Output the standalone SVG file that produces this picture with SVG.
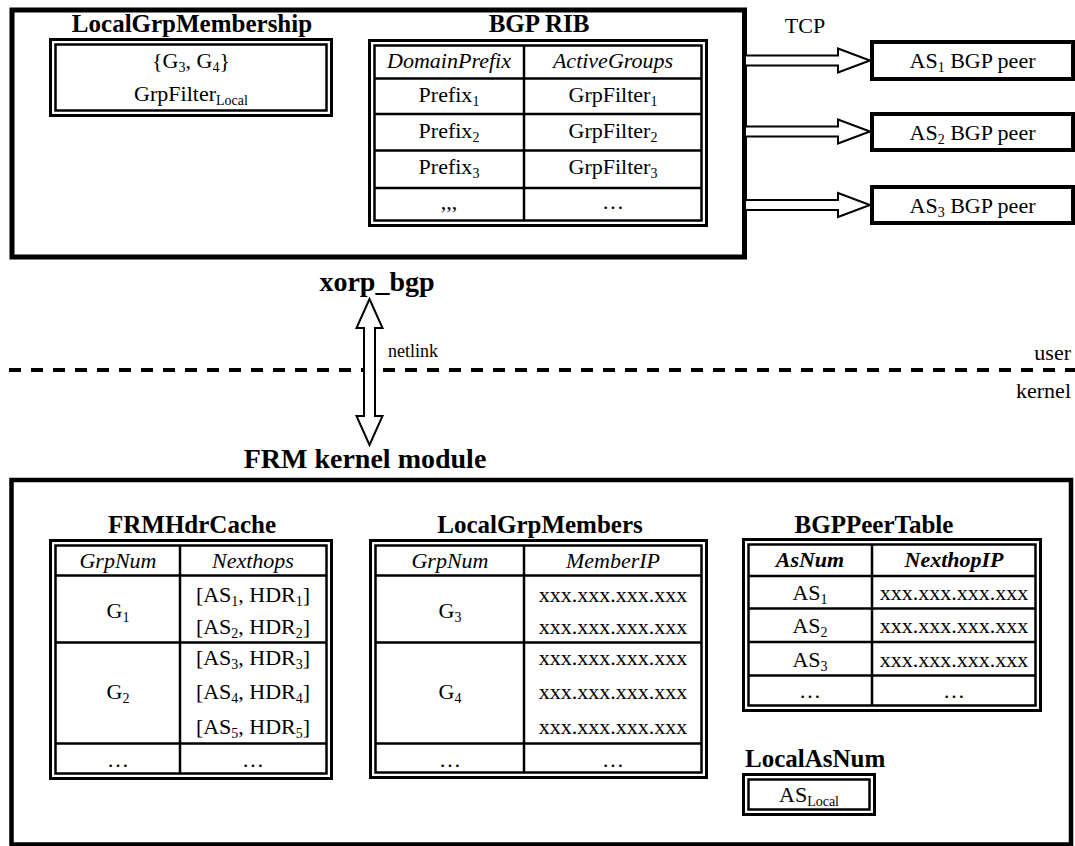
<svg xmlns="http://www.w3.org/2000/svg" width="1075" height="846" viewBox="0 0 1075 846">
<style>
text{font-family:"Liberation Serif","Times New Roman",serif;font-size:22px;fill:#000;text-anchor:middle}
.b{font-weight:bold;font-size:25px}
.bb{font-weight:bold;font-size:28px}
.i{font-style:italic}
.bi{font-style:italic;font-weight:bold}
.s{font-size:14px}
.st{text-anchor:start}
.en{text-anchor:end}
.o{fill:none;stroke:#000;stroke-width:3}
.in{fill:none;stroke:#000;stroke-width:2.5}
.g{stroke:#000;stroke-width:2.5;fill:none}
.box{fill:#fff;stroke:#000}
.arr{fill:#fff;stroke:#000;stroke-width:2;stroke-linejoin:miter}
</style>
<rect width="1075" height="846" fill="#fff"/>

<g id="xorp_bgp">
<rect class="box" x="12" y="10" width="732.5" height="247" stroke-width="5"/>
<text class="bb" x="377" y="291">xorp_bgp</text>
</g>

<g id="LocalGrpMembership">
<text class="b" x="192" y="32">LocalGrpMembership</text>
<rect class="o" x="50.5" y="39.5" width="281" height="76"/>
<rect class="in" x="55.5" y="44.5" width="271" height="66"/>
<text x="191" y="68">{G<tspan class="s" dy="4">3</tspan><tspan dy="-4">, G</tspan><tspan class="s" dy="4">4</tspan><tspan dy="-4">}</tspan></text>
<text x="191" y="101">GrpFilter<tspan class="s" dy="4">Local</tspan></text>
</g>

<g id="BGP_RIB">
<text class="b" x="539" y="32">BGP RIB</text>
<rect class="o" x="369.5" y="40.5" width="337" height="185"/>
<rect class="in" x="374.5" y="45.5" width="327" height="175"/>
<path class="g" d="M524 45.5V220.5M374.5 78.5H701.5M374.5 114H701.5M374.5 150.5H701.5M374.5 188H701.5"/>
<text class="i" x="449" y="68">DomainPrefix</text>
<text class="i" x="613" y="68">ActiveGroups</text>
<text x="449" y="102">Prefix<tspan class="s" dy="4">1</tspan></text>
<text x="613" y="102">GrpFilter<tspan class="s" dy="4">1</tspan></text>
<text x="449" y="138">Prefix<tspan class="s" dy="4">2</tspan></text>
<text x="613" y="138">GrpFilter<tspan class="s" dy="4">2</tspan></text>
<text x="449" y="174">Prefix<tspan class="s" dy="4">3</tspan></text>
<text x="613" y="174">GrpFilter<tspan class="s" dy="4">3</tspan></text>
<text x="449" y="209">,,,</text>
<text x="613" y="209">…</text>
</g>

<g id="peer1">
<rect class="box" x="872" y="42" width="201" height="37" stroke-width="4"/>
<text x="972.5" y="68">AS<tspan class="s" dy="4">1</tspan><tspan dy="-4"> BGP peer</tspan></text>
</g>
<g id="peer2">
<rect class="box" x="872" y="114" width="201" height="36" stroke-width="4"/>
<text x="972.5" y="140">AS<tspan class="s" dy="4">2</tspan><tspan dy="-4"> BGP peer</tspan></text>
</g>
<g id="peer3">
<rect class="box" x="872" y="187" width="201" height="36" stroke-width="4"/>
<text x="972.5" y="213">AS<tspan class="s" dy="4">3</tspan><tspan dy="-4"> BGP peer</tspan></text>
</g>

<g id="divider">
<line x1="0" y1="370" x2="1075" y2="370" stroke="#000" stroke-width="4" stroke-dasharray="12 10" stroke-dashoffset="13"/>
<text class="en" x="1071" y="360">user</text>
<text class="en" x="1071" y="398">kernel</text>
</g>

<g id="connectors">
<polygon class="arr" points="745,55.5 838,55.5 838,48.5 870,60.5 838,72.5 838,65.5 745,65.5"/>
<polygon class="arr" points="745,126.5 838,126.5 838,119.5 870,131.5 838,143.5 838,136.5 745,136.5"/>
<polygon class="arr" points="745,200 838,200 838,193 870,205 838,217 838,210 745,210"/>
<text x="805" y="33">TCP</text>
<polygon class="arr" points="369.5,299 382.5,328 375,328 375,416 382.5,416 369.5,445 356.5,416 364,416 364,328 356.5,328"/>
<text class="st" x="388" y="357" style="font-size:18px">netlink</text>
</g>

<g id="FRM_kernel_module">
<rect class="box" x="11.5" y="480" width="1059.5" height="364.5" stroke-width="4.5"/>
<text class="bb" x="365" y="468">FRM kernel module</text>
</g>

<g id="FRMHdrCache">
<text class="b" x="192" y="533">FRMHdrCache</text>
<rect class="o" x="50.5" y="540.5" width="281" height="238"/>
<rect class="in" x="55.5" y="545.5" width="271" height="228"/>
<path class="g" d="M180 545.5V773.5M55.5 575.5H326.5M55.5 642.5H326.5M55.5 743.5H326.5"/>
<text class="i" x="118" y="568">GrpNum</text>
<text class="i" x="253" y="568">Nexthops</text>
<text x="118" y="618">G<tspan class="s" dy="4">1</tspan></text>
<text x="253" y="602">[AS<tspan class="s" dy="4">1</tspan><tspan dy="-4">, HDR</tspan><tspan class="s" dy="4">1</tspan><tspan dy="-4">]</tspan></text>
<text x="253" y="634">[AS<tspan class="s" dy="4">2</tspan><tspan dy="-4">, HDR</tspan><tspan class="s" dy="4">2</tspan><tspan dy="-4">]</tspan></text>
<text x="118" y="699">G<tspan class="s" dy="4">2</tspan></text>
<text x="253" y="665">[AS<tspan class="s" dy="4">3</tspan><tspan dy="-4">, HDR</tspan><tspan class="s" dy="4">3</tspan><tspan dy="-4">]</tspan></text>
<text x="253" y="699">[AS<tspan class="s" dy="4">4</tspan><tspan dy="-4">, HDR</tspan><tspan class="s" dy="4">4</tspan><tspan dy="-4">]</tspan></text>
<text x="253" y="734">[AS<tspan class="s" dy="4">5</tspan><tspan dy="-4">, HDR</tspan><tspan class="s" dy="4">5</tspan><tspan dy="-4">]</tspan></text>
<text x="118" y="767">…</text>
<text x="253" y="767">…</text>
</g>

<g id="LocalGrpMembers">
<text class="b" x="540" y="533">LocalGrpMembers</text>
<rect class="o" x="370.5" y="540.5" width="336" height="237"/>
<rect class="in" x="375.5" y="545.5" width="326" height="227"/>
<path class="g" d="M524 545.5V772.5M375.5 575.5H701.5M375.5 642.5H701.5M375.5 743.5H701.5"/>
<text class="i" x="450" y="568">GrpNum</text>
<text class="i" x="613" y="568">MemberIP</text>
<text x="450" y="618">G<tspan class="s" dy="4">3</tspan></text>
<text x="613" y="602">xxx.xxx.xxx.xxx</text>
<text x="613" y="634">xxx.xxx.xxx.xxx</text>
<text x="450" y="699">G<tspan class="s" dy="4">4</tspan></text>
<text x="613" y="665">xxx.xxx.xxx.xxx</text>
<text x="613" y="699">xxx.xxx.xxx.xxx</text>
<text x="613" y="734">xxx.xxx.xxx.xxx</text>
<text x="450" y="767">…</text>
<text x="613" y="767">…</text>
</g>

<g id="BGPPeerTable">
<text class="b" x="874" y="533">BGPPeerTable</text>
<rect class="o" x="743.5" y="539.5" width="297" height="171"/>
<rect class="in" x="748.5" y="544.5" width="287" height="161"/>
<path class="g" d="M872 544.5V705.5M748.5 576H1035.5M748.5 608.5H1035.5M748.5 642H1035.5M748.5 675.5H1035.5"/>
<text class="bi" x="810" y="567">AsNum</text>
<text class="bi" x="954" y="567">NexthopIP</text>
<text x="810" y="600">AS<tspan class="s" dy="4">1</tspan></text>
<text x="954" y="600">xxx.xxx.xxx.xxx</text>
<text x="810" y="633">AS<tspan class="s" dy="4">2</tspan></text>
<text x="954" y="633">xxx.xxx.xxx.xxx</text>
<text x="810" y="667">AS<tspan class="s" dy="4">3</tspan></text>
<text x="954" y="667">xxx.xxx.xxx.xxx</text>
<text x="810" y="698">…</text>
<text x="954" y="698">…</text>
</g>

<g id="LocalAsNum">
<text class="b st" x="745" y="767">LocalAsNum</text>
<rect class="o" x="743.5" y="774.5" width="131" height="40"/>
<rect class="in" x="748.5" y="779.5" width="121" height="30"/>
<text x="809" y="802">AS<tspan class="s" dy="4">Local</tspan></text>
</g>
</svg>
